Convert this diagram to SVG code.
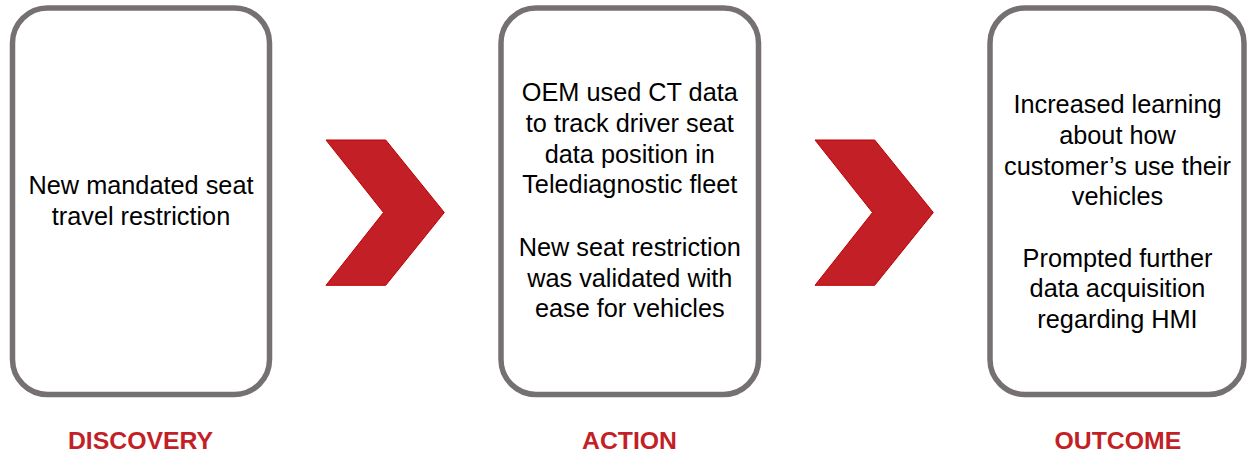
<svg xmlns="http://www.w3.org/2000/svg" width="1247" height="454" viewBox="0 0 1247 454">
<style>
.box{fill:#ffffff;stroke:#767171;stroke-width:5.5}
.chev{fill:#C31F27;stroke:#C00000;stroke-width:1}
.t{font-family:"Liberation Sans",Arial,sans-serif;font-size:25.3px;fill:#000000;text-anchor:middle}
.lbl{font-family:"Liberation Sans",Arial,sans-serif;font-size:24.8px;font-weight:bold;fill:#C31F27;text-anchor:middle}
</style>
<rect width="1247" height="454" fill="#ffffff"/>
<g id="connectors">
<polygon class="chev" points="326,140 385.7,140 444.3,212.5 385.7,285.3 326,285.3 383.5,212.5"/>
<polygon class="chev" points="815,140 874.7,140 933.3,212.5 874.7,285.3 815,285.3 872.5,212.5"/>
</g>
<g id="discovery">
<rect class="box" x="12.5" y="8" width="257" height="386.5" rx="35" ry="35"/>
<text class="t"><tspan x="141" y="194.3">New mandated seat</tspan><tspan x="141" y="225">travel restriction</tspan></text>
<text class="lbl" x="140.5" y="448.5">DISCOVERY</text>
</g>
<g id="action">
<rect class="box" x="501" y="8" width="257.5" height="386.5" rx="35" ry="35"/>
<text class="t"><tspan x="629.8" y="101">OEM used CT data</tspan><tspan x="629.8" y="131.7">to track driver seat</tspan><tspan x="629.8" y="162.5">data position in</tspan><tspan x="629.8" y="193.3">Telediagnostic fleet</tspan><tspan x="629.8" y="256">New seat restriction</tspan><tspan x="629.8" y="286.7">was validated with</tspan><tspan x="629.8" y="317">ease for vehicles</tspan></text>
<text class="lbl" x="629.5" y="448.5">ACTION</text>
</g>
<g id="outcome">
<rect class="box" x="990" y="8" width="254" height="386.5" rx="35" ry="35"/>
<text class="t"><tspan x="1117.5" y="113.3">Increased learning</tspan><tspan x="1117.5" y="144">about how</tspan><tspan x="1117.5" y="174.5">customer’s use their</tspan><tspan x="1117.5" y="205">vehicles</tspan><tspan x="1117.5" y="266.7">Prompted further</tspan><tspan x="1117.5" y="297">data acquisition</tspan><tspan x="1117.5" y="328">regarding HMI</tspan></text>
<text class="lbl" x="1117.9" y="448.5">OUTCOME</text>
</g>
</svg>
